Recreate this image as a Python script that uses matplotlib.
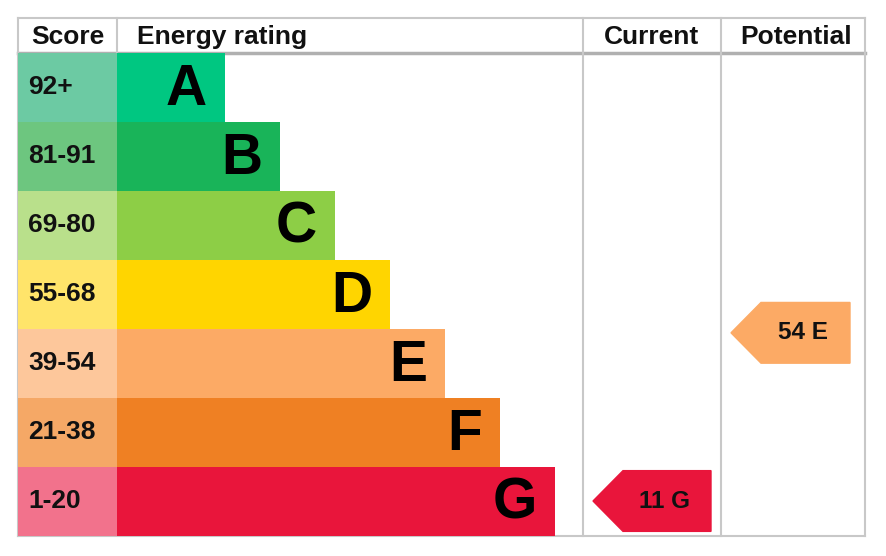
import matplotlib.pyplot as plt
from matplotlib.patches import Polygon

plt.rcParams['font.family'] = ['Liberation Sans', 'DejaVu Sans']

# bands, top (best) to bottom
bands = ['A', 'B', 'C', 'D', 'E', 'F', 'G']
score_labels = ['92+', '81-91', '69-80', '55-68', '39-54', '21-38', '1-20']
band_low = [92, 81, 69, 55, 39, 21, 1]
band_high = [100, 91, 80, 68, 54, 38, 20]
bar_colors = ['#00c781', '#19b459', '#8dce46', '#ffd500', '#fcaa65', '#ef8023', '#e9153b']
score_colors = ['#6ccaa3', '#6dc67f', '#b9e08b', '#ffe46a', '#fdc79b', '#f5a866', '#f2728c']

current_score = 11
potential_score = 54

# layout in pixels (x) and rows (y)
x_left, x_score, x_cur, x_pot, x_right = 18, 117, 583, 721, 865
bar_start = 108
bar_step = 55
head = 0.5

fig = plt.figure(figsize=(8.86, 5.56), dpi=100)
ax = fig.add_axes([0, 0, 1, 1])
ax.set_xlim(0, 886)
ax.set_ylim(7.297, -0.761)
ax.axis('off')

# score cells and rating bars
ys = [i + 0.5 for i in range(len(bands))]
ax.barh(ys, x_score - x_left, left=x_left, height=1, color=score_colors, zorder=2)
widths = [bar_start + bar_step * i for i in range(len(bands))]
ax.barh(ys, widths, left=x_score, height=1, color=bar_colors, zorder=2)

for i, b in enumerate(bands):
    ax.text(x_left + 10, ys[i], score_labels[i], fontsize=19, fontweight='bold',
            ha='left', va='center', color='#111111', zorder=3)
    ax.text(x_score + widths[i] - 18, ys[i] + 0.04, b, fontsize=41, fontweight='bold',
            ha='right', va='center', color='#000000', zorder=3)

# grid lines
gc = '#c8c8c8'
ax.plot([x_left, x_right], [-head, -head], color=gc, lw=1.5, zorder=1)
ax.plot([x_left, x_right], [7, 7], color=gc, lw=1.5, zorder=1)
ax.plot([x_left, x_right], [0, 0], color='#b0b0b0', lw=2.5, zorder=1)
for x in [x_left, x_cur, x_pot, x_right]:
    ax.plot([x, x], [-head, 7], color=gc, lw=1.5, zorder=1)
ax.plot([x_score, x_score], [-head, 0], color=gc, lw=1.5, zorder=1)

# headers
hy = -head / 2 + 0.02
hkw = dict(fontsize=19, fontweight='bold', va='center', color='#111111')
ax.text((x_left + x_score) / 2, hy, 'Score', ha='center', **hkw)
ax.text(x_score + 20, hy, 'Energy rating', ha='left', **hkw)
ax.text((x_cur + x_pot) / 2, hy, 'Current', ha='center', **hkw)
ax.text((x_pot + x_right) / 2 + 3, hy, 'Potential', ha='center', **hkw)


def rating_arrow(score, col_l, col_r, r_margin):
    i = next(k for k in range(len(bands)) if band_low[k] <= score <= band_high[k])
    yc = i + (band_high[i] + 1 - score) / (band_high[i] + 1 - band_low[i])
    h = 0.44
    tip = col_l + 10
    depth = 30
    right = col_r - r_margin
    pts = [(tip, yc), (tip + depth, yc - h), (right, yc - h), (right, yc + h), (tip + depth, yc + h)]
    ax.add_patch(Polygon(pts, closed=True, color=bar_colors[i], zorder=3))
    ax.text((tip + depth + right) / 2 - 2, yc, '%d %s' % (score, bands[i]), fontsize=17.5,
            fontweight='bold', ha='center', va='center', color='#111111', zorder=4)


rating_arrow(current_score, x_cur, x_pot, 10)
rating_arrow(potential_score, x_pot, x_right, 15)

fig.savefig('out.png', dpi=100, facecolor='white')
